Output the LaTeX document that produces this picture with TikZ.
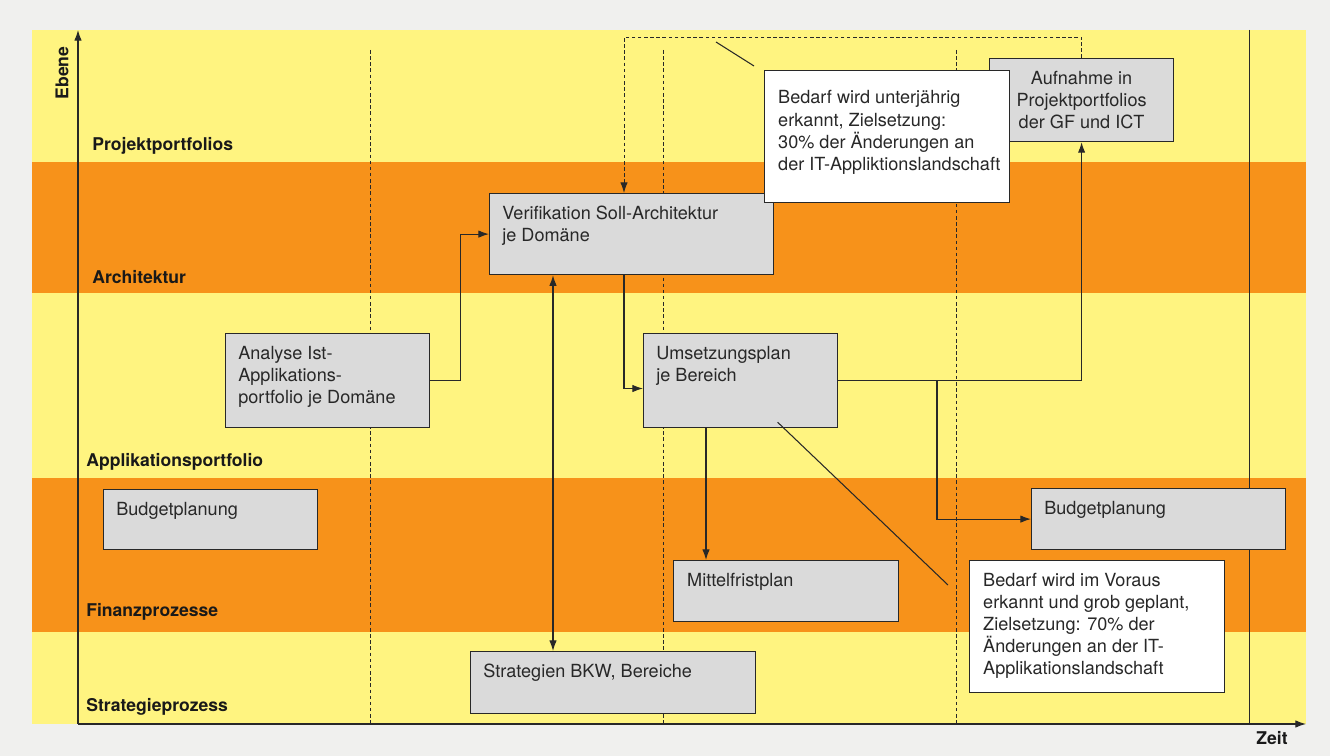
\documentclass[tikz,border=0pt]{standalone}
\usepackage{fontspec}
\setmainfont{TeX Gyre Heros}
\usetikzlibrary{arrows.meta}

\definecolor{page}{RGB}{240,240,238}
\definecolor{gelb}{RGB}{255,244,128}
\definecolor{bandorange}{RGB}{247,146,26}
\definecolor{boxgray}{RGB}{218,218,218}
\definecolor{linec}{RGB}{40,40,40}

\newcommand{\boxfont}{\fontsize{10.3}{12.6}\selectfont}

\tikzset{
	box/.style={draw=linec, line width=0.7pt, fill=boxgray, anchor=north west, inner sep=0pt},
	note/.style={box, fill=white},
	boxtext/.style={anchor=north west, align=left, inner xsep=7.4pt, inner ysep=7.2pt, font=\boxfont, text=linec},
	notetext/.style={boxtext, inner xsep=7.9pt},
	lvl/.style={anchor=west, inner sep=0pt, font=\bfseries\fontsize{10}{12}\selectfont, text=black!90},
	phase/.style={draw=linec, line width=0.5pt, dash pattern=on 2pt off 1.5pt},
	conn/.style={draw=linec, line width=0.6pt}
}

\begin{document}
\begin{tikzpicture}[x=0.02cm, y=-0.02cm, >={Latex[length=6pt,width=4.2pt]}]
		% page and bands
		\fill[page] (0,0) rectangle (1330,756);
		\fill[gelb] (32,30) rectangle (1306,162);
		\fill[bandorange] (32,162) rectangle (1306,293);
		\fill[gelb] (32,293) rectangle (1306,478);
		\fill[bandorange] (32,478) rectangle (1306,632);
		\fill[gelb] (32,632) rectangle (1306,724);
		\foreach \x in {370,663,956}
			\draw[phase] (\x,50) -- (\x,724);
		\draw[conn, line width=0.5pt] (1249,30) -- (1249,724);

		% axes
		\coordinate (o) at (78,724);
		\draw[conn, ->] (o) -- (78,30);
		\draw[conn, ->] (o) -- (1306,724);
		\node[lvl, rotate=90, anchor=center] (ebene) at (62,73) {Ebene};
		\node[lvl, anchor=center] (zeit) at (1272,738) {Zeit};

		\node[lvl] (pp) at (92,146) {Projektportfolios};
		\node[lvl] (ar) at (92,277) {Architektur};
		\node[lvl] (ap) at (86,462) {Applikationsportfolio};
		\node[lvl] (fp) at (86,612) {Finanzprozesse};
		\node[lvl] (sp) at (86,707) {Strategieprozess};

		% boxes
		\node[box, minimum width=4.08cm, minimum height=1.88cm,
			label={[boxtext]north west:{Analyse Ist-\\Applikations-\\portfolio je Domäne}}] (analyse) at (225,333) {};
		\node[box, minimum width=5.68cm, minimum height=1.62cm,
			label={[boxtext]north west:{Verifikation Soll-Architektur\\je Domäne}}] (verif) at (489,193) {};
		\node[box, minimum width=3.88cm, minimum height=1.88cm,
			label={[boxtext]north west:{Umsetzungsplan\\je Bereich}}] (umsetz) at (643,333) {};
		\node[box, minimum width=3.68cm, minimum height=1.66cm, align=center, font=\boxfont, text=linec] (aufnahme) at (989,58) {Aufnahme in\\Projektportfolios\\der GF und ICT};
		\node[box, minimum width=4.28cm, minimum height=1.2cm,
			label={[boxtext]north west:{Budgetplanung}}] (budget1) at (103,489) {};
		\node[box, minimum width=5.08cm, minimum height=1.22cm,
			label={[boxtext]north west:{Budgetplanung}}] (budget2) at (1031,488) {};
		\node[box, minimum width=4.5cm, minimum height=1.22cm,
			label={[notetext]north west:{Mittelfristplan}}] (mittel) at (673,560) {};
		\node[box, minimum width=5.7cm, minimum height=1.24cm,
			label={[boxtext]north west:{Strategien BKW, Bereiche}}] (strat) at (470,651) {};
		\node[note, minimum width=4.9cm, minimum height=2.64cm,
			label={[notetext, inner ysep=11.6pt]north west:{Bedarf wird unterjährig\\erkannt, Zielsetzung:\\30\% der Änderungen an\\der IT-Appliktionslandschaft}}] (note1) at (764,70) {};
		\node[note, minimum width=5.1cm, minimum height=2.64cm,
			label={[notetext]north west:{Bedarf wird im Voraus\\erkannt und grob geplant,\\Zielsetzung: 70\% der\\Änderungen an der IT-\\Applikationslandschaft}}] (note2) at (969,560) {};

		% connectors
		\coordinate (xv) at (624,0);
		\coordinate (xd) at (553,0);
		\coordinate (xm) at (706,0);
		\coordinate (xb) at (937,0);
		\draw[conn, ->] (analyse.east) -- ++(30,0) |- (verif.west);
		\draw[conn, ->] (verif.south -| xv) |- ([yshift=-4.5pt]umsetz.west);
		\draw[conn, <->] (verif.south -| xd) -- (strat.north -| xd);
		\draw[conn, ->] (umsetz.south -| xm) -- (mittel.north -| xm);
		\draw[conn, ->] (umsetz.east) -| (aufnahme.south);
		\draw[conn, ->] (umsetz.east -| xb) |- (budget2.west);
		\draw[phase, ->] (aufnahme.north) -- ++(0,-21) -| (verif.north -| xv);
		\draw[conn] ([shift={(-10,-4)}]note1.north west) -- ++(-38,-24);
		\draw[conn] ([shift={(-21,25)}]note2.north west) -- ([shift={(37,-6)}]umsetz.south);
	\end{tikzpicture}
\end{document}
